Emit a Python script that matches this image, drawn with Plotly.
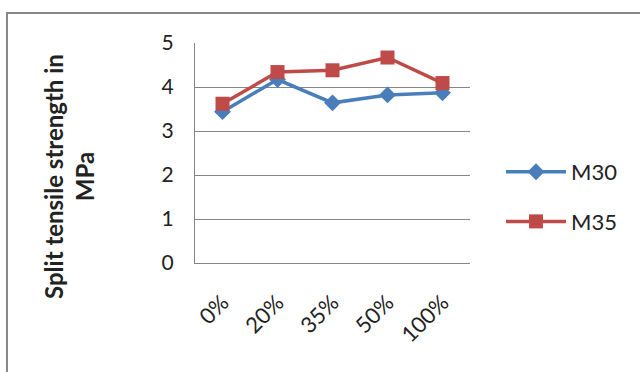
import plotly.graph_objects as go

categories = ["0%", "20%", "35%", "50%", "100%"]
m30 = [3.44, 4.17, 3.64, 3.82, 3.87]
m35 = [3.62, 4.34, 4.38, 4.67, 4.09]
y_ticks = [0, 1, 2, 3, 4, 5]

FONT = "Lato"
W, H = 640, 372
L, R, T, B = 195, 170, 43, 109
pw = W - L - R
ph = H - T - B

def px_x(p):
    return (p - L) / pw

def px_y(p):
    return 1 - (p - T) / ph

fig = go.Figure()
fig.add_trace(go.Scatter(
    x=categories, y=m30, name="M30", mode="lines+markers", legendgroup="a",
    line=dict(color="#4A7EBB", width=3.5),
    marker=dict(symbol="diamond", size=13, color="#4A7EBB"),
))
fig.add_trace(go.Scatter(
    x=categories, y=m35, name="M35", mode="lines+markers", legendgroup="b",
    line=dict(color="#BE4B48", width=3.5),
    marker=dict(symbol="square", size=14, color="#BE4B48"),
))

fig.update_layout(
    width=W, height=H,
    margin=dict(l=L, r=R, t=T, b=B),
    paper_bgcolor="white", plot_bgcolor="white",
    font=dict(family=FONT, size=21, color="#222222"),
    showlegend=True,
    legend=dict(x=px_x(501), y=px_y(151), xanchor="left", yanchor="top",
                font=dict(size=22), tracegroupgap=18, itemwidth=60,
                bgcolor="rgba(0,0,0,0)"),
    xaxis=dict(type="category", tickangle=-45, showgrid=False,
               showline=True, linecolor="#868686", linewidth=1,
               ticks="", ticklabelstandoff=17, tickfont=dict(size=22),
               range=[-0.5, 4.5], fixedrange=True),
    yaxis=dict(range=[0, 5], tickvals=y_ticks, showgrid=True,
               gridcolor="#868686", gridwidth=1,
               showline=True, linecolor="#868686", linewidth=1,
               ticks="", ticklabelstandoff=16, tickfont=dict(size=21),
               zeroline=False),
    annotations=[dict(
        text="<b>Split tensile strength in<br>MPa</b>",
        xref="paper", yref="paper", x=px_x(69), y=px_y(177),
        xanchor="center", yanchor="middle", textangle=-90,
        showarrow=False, font=dict(size=24, family=FONT, color="#222222"),
    )],
    shapes=[dict(
        type="rect", xref="paper", yref="paper",
        x0=px_x(7), x1=px_x(650), y0=px_y(380), y1=px_y(13),
        line=dict(color="#878787", width=2), fillcolor="rgba(0,0,0,0)",
        layer="below",
    )],
)

fig.write_html("out.html")
